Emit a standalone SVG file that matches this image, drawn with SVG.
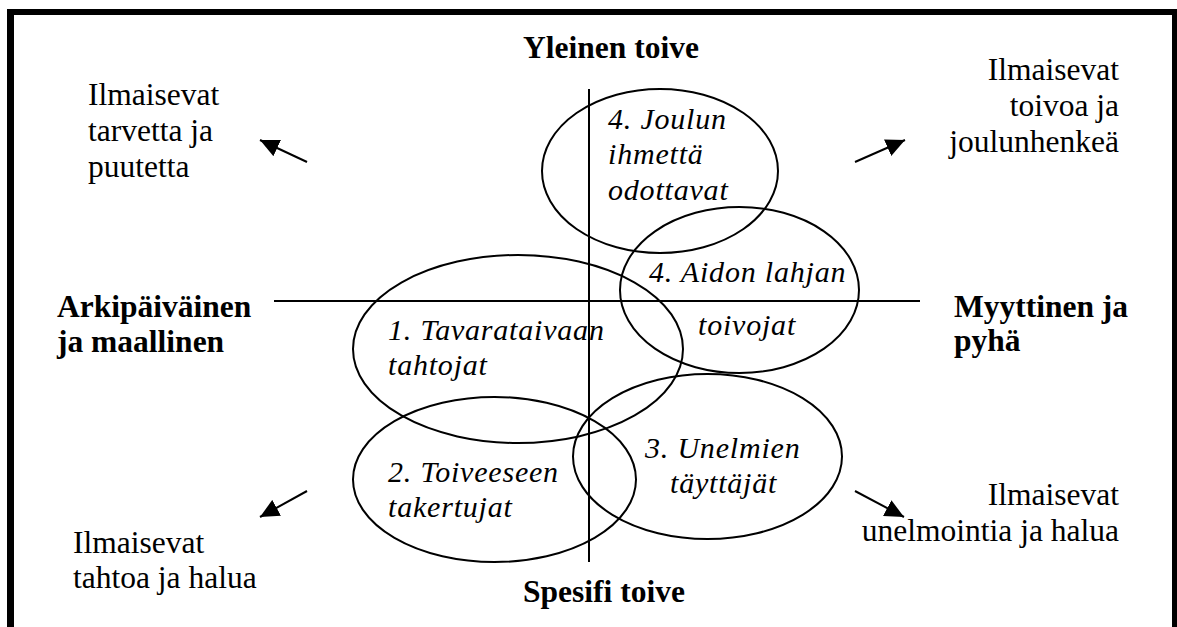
<svg xmlns="http://www.w3.org/2000/svg" width="1177" height="627" viewBox="0 0 1177 627">
<style>
text{font-family:'Liberation Serif','Times New Roman',Tinos,Times,'DejaVu Serif',serif;font-size:31.5px;fill:#000}
.b{font-weight:bold}
.i{font-style:italic;font-size:30px;letter-spacing:0.8px}
.e{fill:none;stroke:#000;stroke-width:2}
.ax{stroke:#000;stroke-width:2}
.ar{stroke:#000;stroke-width:2;marker-end:url(#ah)}
.r{text-anchor:end}
.m{text-anchor:middle}
</style>
<defs>
<marker id="ah" markerUnits="userSpaceOnUse" markerWidth="20" markerHeight="18" refX="19" refY="9" orient="auto">
<path d="M0,0 L19,9 L0,18 Z" fill="#000"/>
</marker>
</defs>
<rect width="1177" height="627" fill="#fff"/>
<g id="frame">
<rect x="7" y="9" width="7" height="618" fill="#000"/>
<rect x="7" y="9" width="1170" height="6" fill="#000"/>
<rect x="1172" y="9" width="5" height="618" fill="#000"/>
</g>
<g id="connectors">
<line class="ax" x1="274" y1="301" x2="920" y2="301"/>
<line class="ax" x1="589" y1="89" x2="589" y2="562"/>
<line class="ar" x1="307" y1="162" x2="260" y2="140"/>
<line class="ar" x1="855" y1="162" x2="905" y2="140"/>
<line class="ar" x1="307" y1="491" x2="260" y2="517"/>
<line class="ar" x1="855" y1="491" x2="904" y2="517"/>
</g>
<g id="node-joulun">
<ellipse class="e" cx="660" cy="171" rx="118" ry="82"/>
<text class="i" x="608" y="129">4. Joulun</text>
<text class="i" x="608" y="164">ihmettä</text>
<text class="i" x="608" y="200">odottavat</text>
</g>
<g id="node-aidon">
<ellipse class="e" cx="739.5" cy="290" rx="119.5" ry="83"/>
<text class="i" x="649" y="282">4. Aidon lahjan</text>
<text class="i" x="698" y="335">toivojat</text>
</g>
<g id="node-tavara">
<ellipse class="e" cx="518" cy="349" rx="165" ry="94"/>
<text class="i" x="388" y="340">1. Tavarataivaan</text>
<text class="i" x="388" y="375">tahtojat</text>
</g>
<g id="node-toive">
<ellipse class="e" cx="494.5" cy="479.5" rx="141.5" ry="82.5"/>
<text class="i" x="388" y="482">2. Toiveeseen</text>
<text class="i" x="388" y="517">takertujat</text>
</g>
<g id="node-unelmien">
<ellipse class="e" cx="707.5" cy="456.5" rx="134.5" ry="82.5"/>
<text class="i" x="645" y="458">3. Unelmien</text>
<text class="i" x="670" y="493">täyttäjät</text>
</g>
<g id="label-yleinen"><text class="b m" x="611" y="58">Yleinen toive</text></g>
<g id="label-spesifi"><text class="b m" x="604" y="602">Spesifi toive</text></g>
<g id="label-arki">
<text class="b" x="57" y="317">Arkipäiväinen</text>
<text class="b" x="57" y="352">ja maallinen</text>
</g>
<g id="label-myyt">
<text class="b" x="954" y="317">Myyttinen ja</text>
<text class="b" x="954" y="351">pyhä</text>
</g>
<g id="note-tl">
<text x="88" y="105">Ilmaisevat</text>
<text x="88" y="141">tarvetta ja</text>
<text x="88" y="177">puutetta</text>
</g>
<g id="note-tr">
<text class="r" x="1119" y="80">Ilmaisevat</text>
<text class="r" x="1119" y="116">toivoa ja</text>
<text class="r" x="1119" y="152">joulunhenkeä</text>
</g>
<g id="note-bl">
<text x="73" y="553">Ilmaisevat</text>
<text x="73" y="588">tahtoa ja halua</text>
</g>
<g id="note-br">
<text class="r" x="1119" y="505">Ilmaisevat</text>
<text class="r" x="1119" y="541">unelmointia ja halua</text>
</g>
</svg>
